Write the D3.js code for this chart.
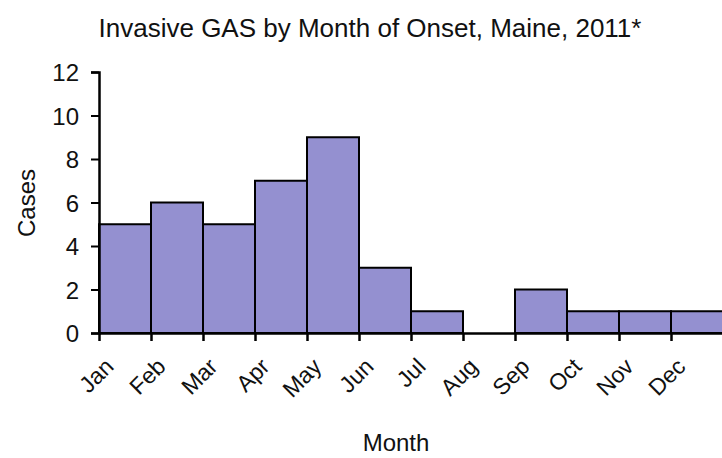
<!DOCTYPE html>
<html>
<head>
<meta charset="utf-8">
<script src="https://cdn.jsdelivr.net/npm/d3@7"></script>
<style>
  body { margin: 0; background: #fff; }
  svg { display: block; font-family: "Liberation Sans", Arial, sans-serif; }
</style>
</head>
<body>
<div id="chart"></div>
<script>
const width = 722;
const height = 458;

const months = ["Jan","Feb","Mar","Apr","May","Jun","Jul","Aug","Sep","Oct","Nov","Dec"];
const cases = [5, 6, 5, 7, 9, 3, 1, 0, 2, 1, 1, 1];
const yTicks = [0, 2, 4, 6, 8, 10, 12];

const plotLeft = 99, plotRight = 723, plotTop = 72, plotBottom = 333;

const svg = d3.select("#chart")
  .append("svg")
  .attr("width", width)
  .attr("height", height);

const x = d3.scaleBand().domain(months).range([plotLeft, plotRight]).padding(0);
const xEdge = d3.scaleLinear().domain([0, months.length]).range([plotLeft, plotRight]);
const y = d3.scaleLinear().domain([0, 12]).range([plotBottom, plotTop]);

// title
svg.append("text")
  .attr("x", 370)
  .attr("y", 37)
  .attr("text-anchor", "middle")
  .style("font-size", "26px")
  .attr("fill", "#111")
  .text("Invasive GAS by Month of Onset, Maine, 2011*");

// bars
svg.selectAll("rect.bar")
  .data(months)
  .enter()
  .append("rect")
  .attr("class", "bar")
  .attr("x", d => x(d))
  .attr("y", (d, i) => y(cases[i]))
  .attr("width", x.bandwidth())
  .attr("height", (d, i) => plotBottom - y(cases[i]))
  .attr("fill", "#9490d0")
  .attr("stroke", "#000")
  .attr("stroke-width", 2);

// y axis
const yAxis = svg.append("g")
  .attr("transform", `translate(${plotLeft},0)`)
  .call(d3.axisLeft(y).tickValues(yTicks).tickSize(8).tickPadding(12));
yAxis.select(".domain").attr("stroke-width", 2.5);
yAxis.selectAll(".tick line").attr("stroke-width", 2);
yAxis.selectAll("text")
  .style("font-size", "24px")
  .style("font-family", "Liberation Sans, Arial, sans-serif")
  .attr("fill", "#111")
  .attr("dy", "0.36em");

// x axis (ticks between categories)
const xAxis = svg.append("g")
  .attr("transform", `translate(0,${plotBottom})`)
  .call(d3.axisBottom(xEdge).tickValues(d3.range(months.length + 1)).tickFormat("").tickSize(8).tickSizeOuter(0));
xAxis.select(".domain").attr("stroke-width", 2.5);
xAxis.selectAll(".tick line").attr("stroke-width", 2.5);

// rotated month labels
svg.selectAll("text.month")
  .data(months)
  .enter()
  .append("text")
  .attr("class", "month")
  .attr("text-anchor", "end")
  .attr("transform", d => `translate(${x(d) + x.bandwidth() / 2 - 10},${plotBottom + 35}) rotate(-45)`)
  .style("font-size", "23px")
  .attr("fill", "#111")
  .text(d => d);

// axis titles
svg.append("text")
  .attr("x", 396)
  .attr("y", 451)
  .attr("text-anchor", "middle")
  .style("font-size", "24px")
  .attr("fill", "#111")
  .text("Month");

svg.append("text")
  .attr("transform", "translate(35,203) rotate(-90)")
  .attr("text-anchor", "middle")
  .style("font-size", "24px")
  .attr("fill", "#111")
  .text("Cases");
</script>
</body>
</html>
